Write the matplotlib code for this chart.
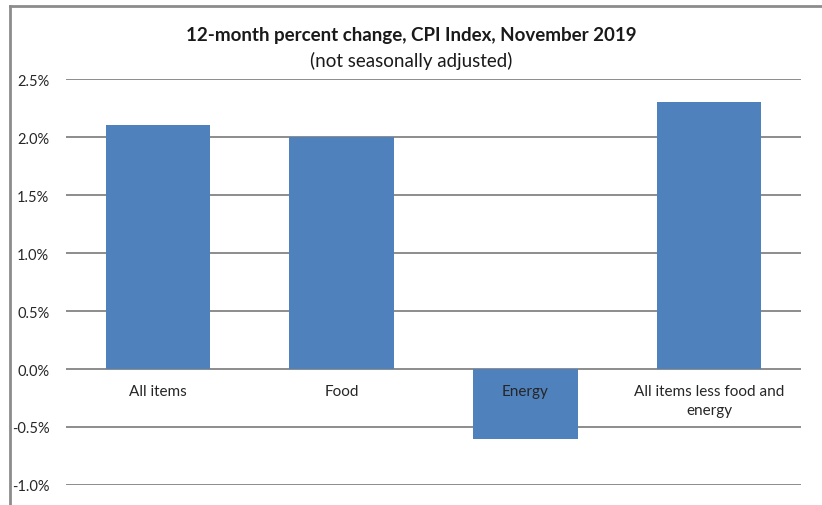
import matplotlib.pyplot as plt
from matplotlib.lines import Line2D
from matplotlib.ticker import FuncFormatter

# data
categories = ['All items', 'Food', 'Energy', 'All items less food and\nenergy']
pct_change = [2.1, 2.0, -0.6, 2.3]
yticks = [-1.0, -0.5, 0.0, 0.5, 1.0, 1.5, 2.0, 2.5]

plt.rcParams['font.family'] = ['Lato', 'DejaVu Sans']

fig = plt.figure(figsize=(8.22, 5.06), dpi=100)
W, H = 822, 506
ax = fig.add_axes([66 / W, 1 - 486 / H, (801 - 66) / W, (486 - 80) / H])

x = range(len(categories))
ax.bar(x, pct_change, width=0.57, color='#4F81BD', zorder=2)

ax.set_xlim(-0.5, len(categories) - 0.5)
ax.set_ylim(-1.0, 2.5)
ax.set_yticks(yticks)
ax.yaxis.set_major_formatter(FuncFormatter(lambda v, p: '%.1f%%' % v))
ax.grid(axis='y', color='#8c8c8c', linewidth=1.4)
ax.set_axisbelow(True)
ax.set_xticks([])
for s in ['bottom', 'top', 'left', 'right']:
    ax.spines[s].set_visible(False)
ax.tick_params(axis='y', length=0, pad=12, labelsize=10.5, labelcolor='#262626')

# category labels sit just under the zero line, drawn over the bars
for i, name in enumerate(categories):
    ax.annotate(name, xy=(i, 0), xytext=(0, -11), textcoords='offset points',
                ha='center', va='top', fontsize=11, color='#262626',
                linespacing=1.4, zorder=5)

fig.text(0.5, 1 - 36 / H, '12-month percent change, CPI Index, November 2019',
         ha='center', va='center', fontsize=13.5, fontweight='bold', color='#1a1a1a')
fig.text(0.5, 1 - 61 / H, '(not seasonally adjusted)',
         ha='center', va='center', fontsize=13.5, color='#1a1a1a')

# chart frame (left and top edges visible)
fig.add_artist(Line2D([10 / W, 10 / W], [0, 1 - 7 / H], transform=fig.transFigure,
                      color='#8c8c8c', linewidth=2))
fig.add_artist(Line2D([10 / W, 1], [1 - 7 / H, 1 - 7 / H], transform=fig.transFigure,
                      color='#8c8c8c', linewidth=2))

fig.savefig('out.png', dpi=100)
